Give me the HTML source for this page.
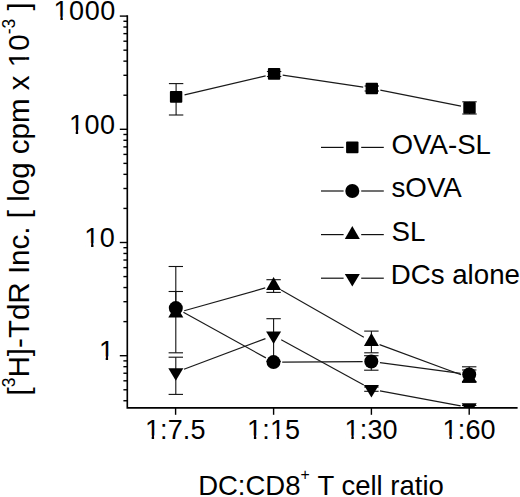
<!DOCTYPE html>
<html><head><meta charset="utf-8"><style>
html,body{margin:0;padding:0;background:#fff;}
svg{display:block;}
text{font-family:"Liberation Sans",sans-serif;fill:#000;}
</style></head><body>
<svg width="520" height="497" viewBox="0 0 520 497">
<defs><clipPath id="c"><rect x="127" y="0" width="393" height="407"/></clipPath></defs>
<g clip-path="url(#c)"><g stroke="#1a1a1a" stroke-width="1.2" fill="none"><line x1="184.57" y1="94.91" x2="265.63" y2="75.89"/><line x1="282.70" y1="75.19" x2="363.20" y2="87.21"/><line x1="380.33" y1="90.19" x2="460.97" y2="106.21"/></g><g stroke="#1a1a1a" stroke-width="1.2" fill="none"><line x1="183.95" y1="369.24" x2="265.45" y2="338.66"/><line x1="281.23" y1="339.78" x2="363.77" y2="385.02"/><line x1="379.95" y1="390.80" x2="460.65" y2="405.90"/></g><g stroke="#1a1a1a" stroke-width="1.2" fill="none"><line x1="184.18" y1="310.75" x2="265.22" y2="287.95"/><line x1="281.15" y1="289.92" x2="363.85" y2="337.28"/><line x1="379.56" y1="344.62" x2="461.04" y2="374.78"/></g><g stroke="#1a1a1a" stroke-width="1.2" fill="none"><line x1="183.41" y1="312.31" x2="265.89" y2="357.89"/><line x1="282.20" y1="362.05" x2="362.60" y2="361.55"/><line x1="379.92" y1="362.65" x2="460.58" y2="373.35"/></g><g stroke="#111" stroke-width="1.1" fill="none"><line x1="176.10" y1="83.60" x2="176.10" y2="96.90"/><line x1="168.90" y1="83.60" x2="183.30" y2="83.60"/><line x1="176.10" y1="115.00" x2="176.10" y2="96.90"/><line x1="168.90" y1="115.00" x2="183.30" y2="115.00"/><line x1="274.10" y1="71.50" x2="274.10" y2="73.90"/><line x1="266.90" y1="71.50" x2="281.30" y2="71.50"/><line x1="274.10" y1="76.50" x2="274.10" y2="73.90"/><line x1="266.90" y1="76.50" x2="281.30" y2="76.50"/><line x1="371.80" y1="86.00" x2="371.80" y2="88.50"/><line x1="364.60" y1="86.00" x2="379.00" y2="86.00"/><line x1="371.80" y1="91.00" x2="371.80" y2="88.50"/><line x1="364.60" y1="91.00" x2="379.00" y2="91.00"/><line x1="469.50" y1="101.80" x2="469.50" y2="107.90"/><line x1="462.30" y1="101.80" x2="476.70" y2="101.80"/><line x1="469.50" y1="114.00" x2="469.50" y2="107.90"/><line x1="462.30" y1="114.00" x2="476.70" y2="114.00"/></g><g stroke="#111" stroke-width="1.1" fill="none"><line x1="175.80" y1="357.20" x2="175.80" y2="372.30"/><line x1="168.60" y1="357.20" x2="183.00" y2="357.20"/><line x1="175.80" y1="394.40" x2="175.80" y2="372.30"/><line x1="168.60" y1="394.40" x2="183.00" y2="394.40"/><line x1="273.60" y1="318.70" x2="273.60" y2="335.60"/><line x1="266.40" y1="318.70" x2="280.80" y2="318.70"/><line x1="273.60" y1="361.50" x2="273.60" y2="335.60"/><line x1="266.40" y1="361.50" x2="280.80" y2="361.50"/><line x1="371.40" y1="387.00" x2="371.40" y2="389.20"/><line x1="364.20" y1="387.00" x2="378.60" y2="387.00"/><line x1="371.40" y1="391.30" x2="371.40" y2="389.20"/><line x1="364.20" y1="391.30" x2="378.60" y2="391.30"/><line x1="469.20" y1="405.50" x2="469.20" y2="407.50"/><line x1="462.00" y1="405.50" x2="476.40" y2="405.50"/><line x1="469.20" y1="420.00" x2="469.20" y2="407.50"/><line x1="462.00" y1="420.00" x2="476.40" y2="420.00"/></g><g stroke="#111" stroke-width="1.1" fill="none"><line x1="175.80" y1="291.50" x2="175.80" y2="313.10"/><line x1="168.60" y1="291.50" x2="183.00" y2="291.50"/><line x1="175.80" y1="352.80" x2="175.80" y2="313.10"/><line x1="168.60" y1="352.80" x2="183.00" y2="352.80"/><line x1="273.60" y1="279.70" x2="273.60" y2="285.60"/><line x1="266.40" y1="279.70" x2="280.80" y2="279.70"/><line x1="273.60" y1="292.40" x2="273.60" y2="285.60"/><line x1="266.40" y1="292.40" x2="280.80" y2="292.40"/><line x1="371.40" y1="331.10" x2="371.40" y2="341.60"/><line x1="364.20" y1="331.10" x2="378.60" y2="331.10"/><line x1="371.40" y1="352.80" x2="371.40" y2="341.60"/><line x1="364.20" y1="352.80" x2="378.60" y2="352.80"/><line x1="469.20" y1="370.00" x2="469.20" y2="377.80"/><line x1="462.00" y1="370.00" x2="476.40" y2="370.00"/><line x1="469.20" y1="381.50" x2="469.20" y2="377.80"/><line x1="462.00" y1="381.50" x2="476.40" y2="381.50"/></g><g stroke="#111" stroke-width="1.1" fill="none"><line x1="175.80" y1="266.50" x2="175.80" y2="308.10"/><line x1="168.60" y1="266.50" x2="183.00" y2="266.50"/><line x1="371.30" y1="355.70" x2="371.30" y2="361.50"/><line x1="364.10" y1="355.70" x2="378.50" y2="355.70"/><line x1="371.30" y1="370.20" x2="371.30" y2="361.50"/><line x1="364.10" y1="370.20" x2="378.50" y2="370.20"/><line x1="469.20" y1="366.80" x2="469.20" y2="374.50"/><line x1="462.00" y1="366.80" x2="476.40" y2="366.80"/><line x1="469.20" y1="382.40" x2="469.20" y2="374.50"/><line x1="462.00" y1="382.40" x2="476.40" y2="382.40"/></g><g fill="#000"><rect x="169.90" y="91.10" width="12.4" height="11.6" rx="1"/><rect x="267.90" y="68.10" width="12.4" height="11.6" rx="1"/><rect x="365.60" y="82.70" width="12.4" height="11.6" rx="1"/><rect x="463.30" y="102.10" width="12.4" height="11.6" rx="1"/></g><g fill="#000"><path d="M175.80 380.63L183.30 368.13L168.30 368.13Z"/><path d="M273.60 343.93L281.10 331.43L266.10 331.43Z"/><path d="M371.40 397.53L378.90 385.03L363.90 385.03Z"/><path d="M469.20 415.83L476.70 403.33L461.70 403.33Z"/></g><g fill="#000"><path d="M175.80 304.43L183.30 317.43L168.30 317.43Z"/><path d="M273.60 276.93L281.10 289.93L266.10 289.93Z"/><path d="M371.40 332.93L378.90 345.93L363.90 345.93Z"/><path d="M469.20 369.13L476.70 382.13L461.70 382.13Z"/></g><g fill="#000"><circle cx="175.80" cy="308.10" r="7"/><circle cx="273.50" cy="362.10" r="7"/><circle cx="371.30" cy="361.50" r="7"/><circle cx="469.20" cy="374.50" r="7"/></g></g>
<g stroke="#000" stroke-width="1.65" fill="none">
<path d="M127.3 15.3V407.8H517.6"/>
</g>
<g stroke="#000" stroke-width="1.4"><line x1="119.8" y1="355.70" x2="127.3" y2="355.70"/><line x1="123.4" y1="321.62" x2="127.3" y2="321.62"/><line x1="123.4" y1="301.69" x2="127.3" y2="301.69"/><line x1="123.4" y1="287.55" x2="127.3" y2="287.55"/><line x1="123.4" y1="276.58" x2="127.3" y2="276.58"/><line x1="123.4" y1="267.61" x2="127.3" y2="267.61"/><line x1="123.4" y1="260.03" x2="127.3" y2="260.03"/><line x1="123.4" y1="253.47" x2="127.3" y2="253.47"/><line x1="123.4" y1="247.68" x2="127.3" y2="247.68"/><line x1="119.8" y1="242.50" x2="127.3" y2="242.50"/><line x1="123.4" y1="208.42" x2="127.3" y2="208.42"/><line x1="123.4" y1="188.49" x2="127.3" y2="188.49"/><line x1="123.4" y1="174.35" x2="127.3" y2="174.35"/><line x1="123.4" y1="163.38" x2="127.3" y2="163.38"/><line x1="123.4" y1="154.41" x2="127.3" y2="154.41"/><line x1="123.4" y1="146.83" x2="127.3" y2="146.83"/><line x1="123.4" y1="140.27" x2="127.3" y2="140.27"/><line x1="123.4" y1="134.48" x2="127.3" y2="134.48"/><line x1="119.8" y1="129.30" x2="127.3" y2="129.30"/><line x1="123.4" y1="95.22" x2="127.3" y2="95.22"/><line x1="123.4" y1="75.29" x2="127.3" y2="75.29"/><line x1="123.4" y1="61.15" x2="127.3" y2="61.15"/><line x1="123.4" y1="50.18" x2="127.3" y2="50.18"/><line x1="123.4" y1="41.21" x2="127.3" y2="41.21"/><line x1="123.4" y1="33.63" x2="127.3" y2="33.63"/><line x1="123.4" y1="27.07" x2="127.3" y2="27.07"/><line x1="123.4" y1="21.28" x2="127.3" y2="21.28"/><line x1="119.8" y1="16.10" x2="127.3" y2="16.10"/><line x1="123.4" y1="400.75" x2="127.3" y2="400.75"/><line x1="123.4" y1="389.78" x2="127.3" y2="389.78"/><line x1="123.4" y1="380.81" x2="127.3" y2="380.81"/><line x1="123.4" y1="373.23" x2="127.3" y2="373.23"/><line x1="123.4" y1="366.67" x2="127.3" y2="366.67"/><line x1="123.4" y1="360.88" x2="127.3" y2="360.88"/><line x1="175.60" y1="407.8" x2="175.60" y2="414.8"/><line x1="273.60" y1="407.8" x2="273.60" y2="414.8"/><line x1="371.40" y1="407.8" x2="371.40" y2="414.8"/><line x1="469.20" y1="407.8" x2="469.20" y2="414.8"/></g>
<g stroke="#111" stroke-width="1.2"><line x1="321" y1="147.40" x2="343.6" y2="147.40"/><line x1="361.2" y1="147.40" x2="383.8" y2="147.40"/><line x1="321" y1="191.00" x2="343.6" y2="191.00"/><line x1="361.2" y1="191.00" x2="383.8" y2="191.00"/><line x1="321" y1="234.60" x2="343.6" y2="234.60"/><line x1="361.2" y1="234.60" x2="383.8" y2="234.60"/><line x1="321" y1="278.20" x2="343.6" y2="278.20"/><line x1="361.2" y1="278.20" x2="383.8" y2="278.20"/></g>
<g fill="#000"><rect x="346.10" y="141.60" width="12.4" height="11.6" rx="1"/><circle cx="352.30" cy="191.00" r="7"/><path d="M352.30 225.93L359.80 238.93L344.80 238.93Z"/><path d="M352.30 286.53L359.80 274.03L344.80 274.03Z"/></g>
<g font-size="27.7"><text x="391.5" y="153.50">OVA-SL</text><text x="391.5" y="197.10">sOVA</text><text x="391.5" y="240.70">SL</text><text x="390.7" y="284.30">DCs alone</text></g>
<g font-size="27" letter-spacing="0.5">
<text x="53.6" y="20.4">1000</text>
<text x="68.95" y="133.7">100</text>
<text x="84.3" y="247">10</text>
<text x="98.9" y="360.3">1</text>
</g>
<g font-size="27" letter-spacing="0.15">
<text x="144.9" y="439.4">1:7.5</text>
<text x="247.1" y="439.4">1:15</text>
<text x="344.6" y="439.4">1:30</text>
<text x="442.6" y="439.4">1:60</text>
</g>
<text font-size="27.5" x="321" y="494.6" text-anchor="middle">DC:CD8<tspan font-size="15.8" dy="-14.5">+</tspan><tspan dy="14.5" dx="0.6"> T cell ratio</tspan></text>
<text font-size="29.55" transform="translate(29.2 198.9) rotate(-90)" text-anchor="middle">[<tspan font-size="17.5" dy="-14.1">3</tspan><tspan dy="14.1">H]-TdR Inc. [ log cpm x 10</tspan><tspan font-size="17.5" dy="-14.1">-3</tspan><tspan dy="14.1"> ]</tspan></text>
<g id="m1" fill="#fff"><polygon points="54.39,23.04 60.39,23.04 60.39,16.44 54.39,16.44"/><polygon points="62.78,23.04 69.42,23.04 69.42,16.44 62.78,16.44"/><polygon points="69.74,136.34 75.74,136.34 75.74,129.74 69.74,129.74"/><polygon points="78.13,136.34 84.77,136.34 84.77,129.74 78.13,129.74"/><polygon points="85.09,249.64 91.09,249.64 91.09,243.04 85.09,243.04"/><polygon points="93.48,249.64 100.12,249.64 100.12,243.04 93.48,243.04"/><polygon points="99.69,362.94 105.69,362.94 105.69,356.34 99.69,356.34"/><polygon points="108.08,362.94 114.72,362.94 114.72,356.34 108.08,356.34"/><polygon points="145.69,442.04 151.69,442.04 151.69,435.44 145.69,435.44"/><polygon points="154.08,442.04 160.72,442.04 160.72,435.44 154.08,435.44"/><polygon points="247.89,442.04 253.89,442.04 253.89,435.44 247.89,435.44"/><polygon points="256.28,442.04 262.92,442.04 262.92,435.44 256.28,435.44"/><polygon points="270.70,442.04 276.70,442.04 276.70,435.44 270.70,435.44"/><polygon points="279.09,442.04 285.73,442.04 285.73,435.44 279.09,435.44"/><polygon points="345.39,442.04 351.39,442.04 351.39,435.44 345.39,435.44"/><polygon points="353.78,442.04 360.42,442.04 360.42,435.44 353.78,435.44"/><polygon points="443.39,442.04 449.39,442.04 449.39,435.44 443.39,435.44"/><polygon points="451.78,442.04 458.42,442.04 458.42,435.44 451.78,435.44"/><polygon points="32.09,66.33 32.09,59.77 24.87,59.77 24.87,66.33"/><polygon points="32.09,57.15 32.09,49.88 24.87,49.88 24.87,57.15"/></g>
</svg>
</body></html>
